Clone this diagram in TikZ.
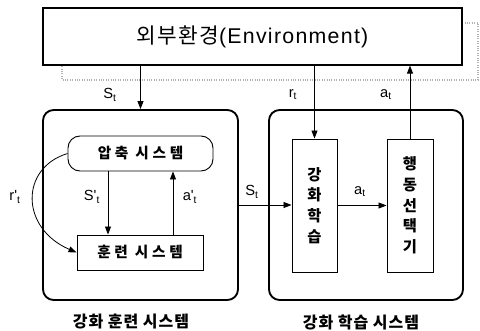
\documentclass[tikz,border=0pt]{standalone}
\usepackage{fontspec}
\setmainfont{Liberation Sans}
\newfontfamily\labfont{Liberation Sans}
\newfontfamily\kr{Noto Sans CJK KR}
\newfontfamily\krs{Noto Sans CJK KR}[LetterSpace=25]
\newfontfamily\krc{Noto Sans CJK KR}[LetterSpace=6]
\newfontfamily\envkr{Noto Sans CJK KR}[LetterSpace=6]
\newfontfamily\envlat{Liberation Sans}[LetterSpace=6]
\usetikzlibrary{arrows.meta,calc}
\begin{document}
\begin{tikzpicture}[x=0.75pt,y=-0.75pt,
  arr/.style={-{Triangle[length=6pt,width=4.5pt]}, line width=0.6pt},
  bigbox/.style={draw, line width=1.4pt, rounded corners=8pt, inner sep=0pt},
  inbox/.style={draw, line width=0.7pt, inner sep=0pt, fill=white},
  lab/.style={font=\labfont\fontsize{11}{13}\selectfont, inner sep=1pt},
  krtxt/.style={font=\krs\bfseries\fontsize{11}{13}\selectfont},
  vtxt/.style={font=\kr\bfseries\fontsize{11.5}{15.5}\selectfont, align=center},
  captxt/.style={font=\krc\bfseries\fontsize{12}{14}\selectfont},
]
\useasboundingbox (0,0) rectangle (480,331);
% shadow of environment box
\draw[gray!60, densely dotted, line width=0.8pt] (62,23) rectangle (478,80);
\node[draw, fill=white, line width=0.9pt, minimum width=314.25pt, minimum height=42.75pt, inner sep=0pt] (env) at (252.5,36.5) {\fontsize{16}{18}\selectfont{\envkr 외부환경}{\envlat(Environment)}};
% big boxes
\node[bigbox, minimum width=146.25pt, minimum height=142.5pt] (left) at (140.5,205) {};
\node[bigbox, minimum width=145.5pt, minimum height=142.5pt] (right) at (366,205) {};
% inner boxes
\node[inbox, rounded corners=9pt, minimum width=108.75pt, minimum height=26.25pt, krtxt] (press) at (140.5,153.5) {압축 시스템};
\node[inbox, minimum width=94.5pt, minimum height=26.25pt, krtxt] (train) at (140,252.5) {훈련 시스템};
\node[inbox, minimum width=33.75pt, minimum height=99.75pt, vtxt] (rl) at (314.5,205.5) {강\\화\\학\\습};
\node[inbox, minimum width=34.5pt, minimum height=99.75pt, vtxt] (act) at (410,205.5) {행\\동\\선\\택\\기};
% captions
\node[captxt] (capL) at (131,322) {강화 훈련 시스템};
\node[captxt] (capR) at (361,322) {강화 학습 시스템};
% connectors
\coordinate (sx) at (108,0);
\coordinate (ax) at (173,0);
\draw[arr] (env.south -| left.north) -- (left.north);
\draw[arr] (env.south -| rl.north) -- (rl.north);
\draw[arr] (act.north) -- (env.south -| act.north);
\draw[arr] (press.south -| sx) -- (train.north -| sx);
\draw[arr] (train.north -| ax) -- (press.south -| ax);
\draw[arr] (left.east) -- (rl.west |- left.east);
\draw[arr] (rl.east) -- (act.west);
\draw[arr] (press.west) .. controls (20,168) and (20,228) .. (train.west);
% labels
\node[lab] (lSt) at (110,95) {S\textsubscript{t}};
\node[lab] (lrt) at (293,95) {r\textsubscript{t}};
\node[lab] (lat) at (386,95) {a\textsubscript{t}};
\node[lab] (lSpt) at (92,197) {S'\textsubscript{t}};
\node[lab] (lapt) at (190,197) {a'\textsubscript{t}};
\node[lab] (lrpt) at (15,197) {r'\textsubscript{t}};
\node[lab] (lSt2) at (252,192) {S\textsubscript{t}};
\node[lab] (lat2) at (360,192) {a\textsubscript{t}};
\end{tikzpicture}
\end{document}
